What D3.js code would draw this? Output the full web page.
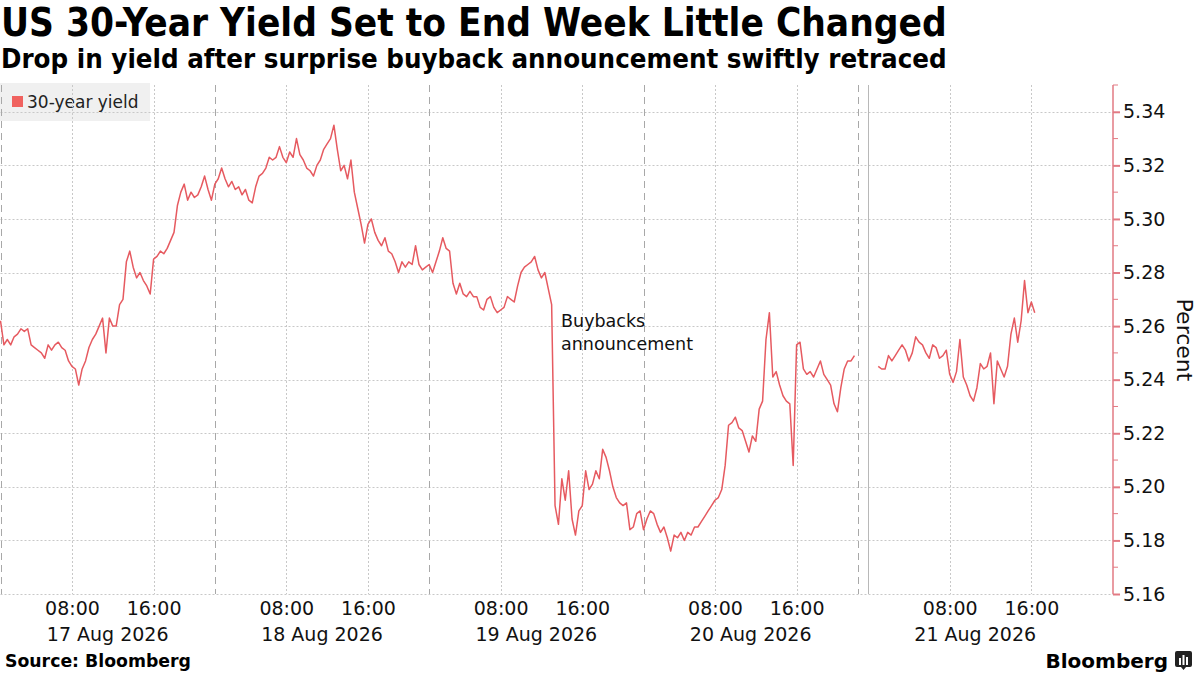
<!DOCTYPE html>
<html>
<head>
<meta charset="utf-8">
<script src="https://cdn.jsdelivr.net/npm/d3@7"></script>
<style>
  body { margin: 0; background: #fff; }
  svg { display: block; font-family: "DejaVu Sans", sans-serif; }
  .cond { font-family: "DejaVu Sans Condensed", "DejaVu Sans", sans-serif; font-stretch: condensed; }
</style>
</head>
<body>
<svg id="chart" width="1200" height="675"></svg>
<script>
// 30-year yield, one reading every 20 minutes from 01:00 of each day
var yield17 = [5.262, 5.253, 5.255, 5.253, 5.256, 5.257, 5.259, 5.258, 5.259, 5.253,
  5.252, 5.251, 5.250, 5.248, 5.253, 5.251, 5.253, 5.254, 5.252, 5.251,
  5.247, 5.245, 5.244, 5.238, 5.244, 5.247, 5.252, 5.255, 5.257, 5.260,
  5.263, 5.250, 5.263, 5.260, 5.260, 5.268, 5.270, 5.284, 5.288, 5.282,
  5.278, 5.280, 5.277, 5.275, 5.272, 5.285, 5.286, 5.288, 5.287, 5.289,
  5.292, 5.295, 5.305, 5.310, 5.313, 5.307, 5.310, 5.308, 5.309, 5.312,
  5.316, 5.311, 5.307];
var yield18 = [5.313, 5.315, 5.319, 5.315, 5.312, 5.314, 5.311, 5.312, 5.309, 5.311,
  5.307, 5.306, 5.312, 5.316, 5.317, 5.319, 5.323, 5.322, 5.323, 5.327,
  5.323, 5.321, 5.325, 5.323, 5.330, 5.324, 5.322, 5.319, 5.318, 5.316,
  5.320, 5.322, 5.326, 5.328, 5.330, 5.335, 5.326, 5.318, 5.320, 5.315,
  5.322, 5.310, 5.304, 5.298, 5.291, 5.298, 5.300, 5.295, 5.292, 5.290,
  5.293, 5.288, 5.287, 5.284, 5.280, 5.284, 5.282, 5.284, 5.283, 5.290,
  5.283, 5.281, 5.282];
var yield19 = [5.283, 5.280, 5.284, 5.288, 5.293, 5.289, 5.288, 5.276, 5.272, 5.276,
  5.272, 5.271, 5.273, 5.271, 5.271, 5.267, 5.266, 5.270, 5.271, 5.267,
  5.265, 5.266, 5.267, 5.271, 5.270, 5.269, 5.275, 5.280, 5.282, 5.283,
  5.284, 5.286, 5.281, 5.278, 5.280, 5.274, 5.268, 5.193, 5.186, 5.203,
  5.195, 5.206, 5.188, 5.182, 5.191, 5.193, 5.206, 5.199, 5.201, 5.206,
  5.203, 5.214, 5.211, 5.206, 5.200, 5.196, 5.194, 5.193, 5.194, 5.184,
  5.185, 5.190, 5.191];
var yield20 = [5.184, 5.188, 5.191, 5.190, 5.186, 5.183, 5.185, 5.181, 5.176, 5.182,
  5.181, 5.183, 5.180, 5.183, 5.182, 5.185, 5.185, 5.187, 5.189, 5.191,
  5.193, 5.195, 5.196, 5.199, 5.208, 5.223, 5.224, 5.226, 5.222, 5.221,
  5.217, 5.213, 5.219, 5.217, 5.229, 5.232, 5.255, 5.265, 5.241, 5.243,
  5.238, 5.234, 5.232, 5.231, 5.208, 5.253, 5.254, 5.244, 5.242, 5.243,
  5.241, 5.244, 5.247, 5.242, 5.240, 5.238, 5.231, 5.228, 5.237, 5.244,
  5.247, 5.247, 5.249];
var yield21 = [5.245, 5.244, 5.244, 5.249, 5.247, 5.249, 5.251, 5.253, 5.251, 5.247,
  5.250, 5.256, 5.254, 5.253, 5.250, 5.248, 5.253, 5.252, 5.248, 5.249,
  5.251, 5.242, 5.239, 5.243, 5.255, 5.241, 5.238, 5.234, 5.232, 5.237,
  5.246, 5.244, 5.245, 5.250, 5.231, 5.247, 5.244, 5.241, 5.245, 5.257,
  5.263, 5.254, 5.262, 5.277, 5.265, 5.269, 5.265];

var seriesByDay = [yield17, yield18, yield19, yield20, yield21];
var dataStarts = ["2026-08-17T01:00:00Z", "2026-08-18T01:00:00Z", "2026-08-19T01:00:00Z",
  "2026-08-20T01:00:00Z", "2026-08-21T01:00:00Z"];
var STEP_MIN = 20;

// trading sessions shown on the axis (overnight gaps are squeezed out)
var sessionStarts = ["2026-08-17T01:00:00Z", "2026-08-18T01:00:00Z", "2026-08-19T01:00:00Z",
  "2026-08-20T01:00:00Z", "2026-08-20T23:00:00Z"];
var sessionEnds = ["2026-08-17T22:00:00Z", "2026-08-18T22:00:00Z", "2026-08-19T22:00:00Z",
  "2026-08-20T22:00:00Z", "2026-08-22T00:00:00Z"];
var dayDates = ["2026-08-17", "2026-08-18", "2026-08-19", "2026-08-20", "2026-08-21"];
var dayLabels = ["17 Aug 2026", "18 Aug 2026", "19 Aug 2026", "20 Aug 2026", "21 Aug 2026"];
var timeTickHours = ["08:00", "16:00"];
var dayMarker = "2026-08-21T00:00:00Z";

var yMajor = [5.16, 5.18, 5.20, 5.22, 5.24, 5.26, 5.28, 5.30, 5.32, 5.34];
var yMinor = [5.17, 5.19, 5.21, 5.23, 5.25, 5.27, 5.29, 5.31, 5.33, 5.35];

var SERIES_NAME = "30-year yield";
var NOTE_LINES = ["Buybacks", "announcement"];
var NOTE_AT = "2026-08-19T13:20:00Z";
var NOTE_VALUE = 5.262;

var LINE_COLOR = "#e65a60";
var AXIS_COLOR = "#e27a83";

var svg = d3.select("#chart");
var plotLeft = 0.5, axisX = 1113, plotTop = 85, plotBottom = 594;

// polylinear time scale: each session gets its share of the width
var totalHours = 0;
sessionStarts.forEach(function(s, i) {
  totalHours += (new Date(sessionEnds[i]) - new Date(s)) / 3.6e6;
});
var pxPerHour = (axisX - plotLeft) / totalHours;
var dom = [], rng = [], acc = plotLeft;
sessionStarts.forEach(function(s, i) {
  var a = new Date(s), b = new Date(sessionEnds[i]);
  dom.push(a); rng.push(acc);
  acc += (b - a) / 3.6e6 * pxPerHour;
  dom.push(b); rng.push(acc);
});
var x = d3.scaleTime().domain(dom).range(rng);
var y = d3.scaleLinear().domain([5.16, 5.35]).range([plotBottom, plotTop]);

// build points, with a break between the 20th and the 21st
var points = [];
seriesByDay.forEach(function(vals, d) {
  var t0 = new Date(dataStarts[d]);
  if (d == 4) points.push(null);
  vals.forEach(function(v, i) {
    points.push({ t: d3.utcMinute.offset(t0, i * STEP_MIN), v: v });
  });
});

// legend box sits under the grid
var legend = svg.append("g");
legend.append("rect").attr("x", 0).attr("y", 83).attr("width", 150).attr("height", 38)
  .attr("fill", "#f0f0f0");

// horizontal grid
svg.append("g").selectAll("line").data(yMajor).join("line")
  .attr("x1", plotLeft).attr("x2", axisX)
  .attr("y1", function(d) { return Math.round(y(d)) + 0.5; })
  .attr("y2", function(d) { return Math.round(y(d)) + 0.5; })
  .attr("stroke", "#c8c8c8").attr("stroke-dasharray", "2,2");

// vertical grid at 08:00 / 16:00
var timeTicks = [];
dayDates.forEach(function(dd) {
  timeTickHours.forEach(function(h) { timeTicks.push(new Date(dd + "T" + h + ":00Z")); });
});
svg.append("g").selectAll("line").data(timeTicks).join("line")
  .attr("x1", function(d) { return Math.round(x(d)) + 0.5; })
  .attr("x2", function(d) { return Math.round(x(d)) + 0.5; })
  .attr("y1", plotTop).attr("y2", plotBottom)
  .attr("stroke", "#c8c8c8").attr("stroke-dasharray", "2,2");

// session boundaries
var bounds = sessionStarts.map(function(s) { return new Date(s); });
svg.append("g").selectAll("line").data(bounds).join("line")
  .attr("x1", function(d) { return Math.round(x(d)) + 0.5; })
  .attr("x2", function(d) { return Math.round(x(d)) + 0.5; })
  .attr("y1", plotTop).attr("y2", plotBottom)
  .attr("stroke", "#a8a8a8").attr("stroke-dasharray", "7,5");

svg.append("line")
  .attr("x1", Math.round(x(new Date(dayMarker))) + 0.5)
  .attr("x2", Math.round(x(new Date(dayMarker))) + 0.5)
  .attr("y1", plotTop).attr("y2", plotBottom)
  .attr("stroke", "#b8b8b8");

legend.append("rect").attr("x", 12).attr("y", 96).attr("width", 11).attr("height", 11)
  .attr("fill", "#f0625f");
legend.append("text").attr("x", 27).attr("y", 108).attr("font-size", 17)
  .attr("fill", "#222").text(SERIES_NAME);

// the line
var line = d3.line()
  .defined(function(d) { return d != null; })
  .x(function(d) { return x(d.t); })
  .y(function(d) { return y(d.v); });
svg.append("path").datum(points)
  .attr("d", line)
  .attr("fill", "none")
  .attr("stroke", LINE_COLOR)
  .attr("stroke-width", 1.5)
  .attr("stroke-linejoin", "round");

// note
var note = svg.append("text")
  .attr("x", x(new Date(NOTE_AT)) + 6)
  .attr("y", y(NOTE_VALUE) + 6)
  .attr("font-size", 17.5).attr("fill", "#111");
note.selectAll("tspan").data(NOTE_LINES).join("tspan")
  .attr("x", x(new Date(NOTE_AT)) + 6)
  .attr("dy", function(d, i) { return i == 0 ? 0 : 23; })
  .text(function(d) { return d; });

// right axis
var yAxis = d3.axisRight(y).tickValues(yMajor).tickFormat(d3.format(".2f")).tickSize(7).tickPadding(3);
var ya = svg.append("g").attr("transform", "translate(" + axisX + ",0)").call(yAxis);
ya.select(".domain").attr("stroke", AXIS_COLOR).attr("stroke-width", 1.5)
  .attr("d", "M0," + y(5.35) + "V" + plotBottom);
ya.selectAll(".tick line").attr("stroke", AXIS_COLOR).attr("stroke-width", 2);
ya.selectAll(".tick text").attr("font-size", 19).attr("fill", "#111")
  .attr("font-family", "DejaVu Sans");
ya.selectAll(".minor").data(yMinor).join("line").attr("class", "minor")
  .attr("x1", 0).attr("x2", 5)
  .attr("y1", function(d) { return y(d); }).attr("y2", function(d) { return y(d); })
  .attr("stroke", AXIS_COLOR);

svg.append("text")
  .attr("transform", "translate(1177,340) rotate(90)")
  .attr("text-anchor", "middle").attr("font-size", 22).attr("fill", "#111")
  .text("Percent");

// bottom axis labels
var xAxis = d3.axisBottom(x).tickValues(timeTicks).tickFormat(d3.utcFormat("%H:%M")).tickSize(0).tickPadding(8);
var xa = svg.append("g").attr("transform", "translate(0," + plotBottom + ")").call(xAxis);
xa.select(".domain").remove();
xa.selectAll(".tick text").attr("font-size", 19).attr("fill", "#111")
  .attr("font-family", "DejaVu Sans");

svg.append("g").selectAll("text").data(dayDates).join("text")
  .attr("x", function(dd, i) {
    var a = x(new Date(sessionStarts[i])), b = x(new Date(dd + "T22:00:00Z"));
    return (a + b) / 2;
  })
  .attr("y", 641).attr("text-anchor", "middle").attr("font-size", 19).attr("fill", "#111")
  .text(function(dd, i) { return dayLabels[i]; });

// titles
function fitText(sel, width) {
  var w = sel.node().getComputedTextLength();
  sel.attr("font-size", parseFloat(sel.attr("font-size")) * width / w);
}
var title = svg.append("text").attr("class", "cond").attr("x", 1).attr("y", 36).attr("font-size", 30)
  .attr("font-weight", "bold").attr("fill", "#000")
  .text("US 30-Year Yield Set to End Week Little Changed");
fitText(title, 946);
var sub = svg.append("text").attr("class", "cond").attr("x", 1).attr("y", 68).attr("font-size", 22)
  .attr("font-weight", "bold").attr("fill", "#000")
  .text("Drop in yield after surprise buyback announcement swiftly retraced");
fitText(sub, 946);

// footer
var src = svg.append("text").attr("x", 5).attr("y", 667).attr("font-size", 16)
  .attr("font-weight", "bold").attr("fill", "#000").text("Source: Bloomberg");
fitText(src, 186);
svg.append("text").attr("x", 1168).attr("y", 668).attr("text-anchor", "end")
  .attr("font-size", 20).attr("font-weight", "bold").attr("fill", "#000").text("Bloomberg");
var logo = svg.append("g").attr("transform", "translate(1175,651)");
logo.append("path").attr("d", "M2,0H15Q17,0 17,2V14Q17,16 15,16H11L8.5,19L6,16H2Q0,16 0,14V2Q0,0 2,0Z")
  .attr("fill", "#222");
[4, 7.5, 11].forEach(function(bx, i) {
  logo.append("rect").attr("x", bx).attr("y", [7, 4, 6][i]).attr("width", 2).attr("height", [7, 10, 8][i])
    .attr("fill", "#fff");
});
</script>
</body>
</html>
